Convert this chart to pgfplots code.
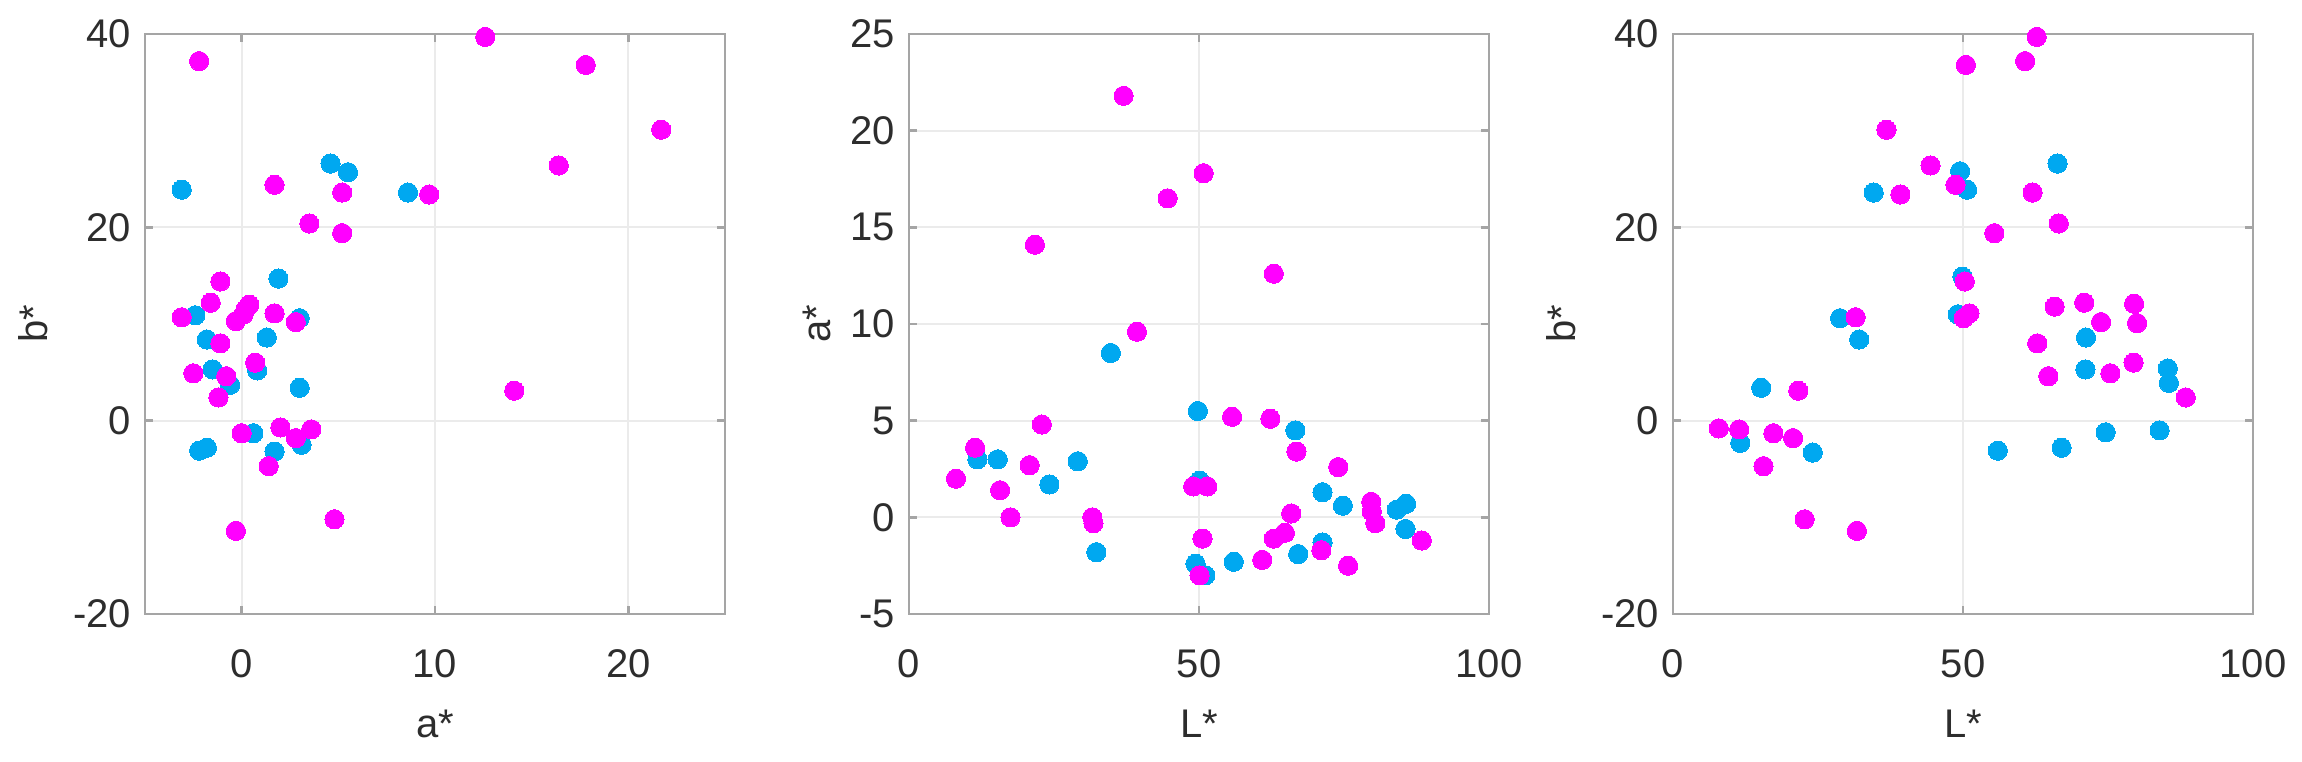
\documentclass[border=0pt]{standalone}
\usepackage{fontspec}
\setmainfont{Liberation Sans}
\usepackage{pgfplots}
\pgfplotsset{compat=1.18}

\definecolor{cyanpt}{RGB}{0,168,240}
\definecolor{magpt}{RGB}{255,0,255}
\definecolor{boxgray}{RGB}{165,165,165}
\definecolor{txtgray}{RGB}{45,45,45}

\pgfplotsset{
  panel/.style={
    scale only axis, width=145pt, height=145pt,
    anchor=south west, clip=false,
    axis line style={draw=boxgray, line width=0.6pt},
    grid=major, major grid style={draw=black!8, line width=0.5pt},
    tick style={draw=boxgray, line width=0.6pt}, major tick length=2pt,
    tick align=inside,
    ticklabel style={text=txtgray, font=\fontsize{10}{12}\selectfont},
    xticklabel style={yshift=-5.4pt},
    label style={text=txtgray, font=\fontsize{10}{12}\selectfont},
    xlabel style={at={(axis description cs:0.5,0)}, anchor=center, yshift=-27.5pt},
  },
  cy/.style={only marks, mark=*, mark size=2.4pt, color=cyanpt, mark options={draw=cyanpt, fill=cyanpt, line width=0pt}},
  mg/.style={only marks, mark=*, mark size=2.4pt, color=magpt, mark options={draw=magpt, fill=magpt, line width=0pt}},
}

\begin{document}
\begin{tikzpicture}
% a* vs b*
\begin{axis}[panel, at={(0pt,0pt)},
  xmin=-5, xmax=25, ymin=-20, ymax=40,
  xtick={0,10,20}, xticklabels={0,10,20},
  ytick={-20,0,20,40}, yticklabels={-20,0,20,40},
  xlabel={a*}, ylabel={b*},
  ylabel style={at={(axis description cs:-0.193,0.5)}, anchor=center}]
\addplot[cy] coordinates {(-3.1,23.9) (4.6,26.6) (5.5,25.7) (8.6,23.6) (1.9,14.7) (-2.4,10.9) (-1.8,8.4) (1.3,8.6) (-1.5,5.3) (0.8,5.2) (-0.6,3.7) (3.0,3.4) (0.6,-1.3) (3.1,-2.5) (1.7,-3.2) (-2.2,-3.1) (-1.8,-2.8) (3.0,10.6)};
\addplot[mg] coordinates {(-2.2,37.2) (12.6,39.7) (17.8,36.8) (21.7,30.1) (16.4,26.4) (1.7,24.4) (5.2,23.6) (9.7,23.4) (3.5,20.4) (5.2,19.4) (-1.1,14.4) (-1.6,12.2) (-3.1,10.7) (0.4,12.0) (0.2,11.5) (0.1,11.0) (-0.3,10.3) (1.7,11.1) (2.8,10.2) (-1.1,8.0) (0.7,6.0) (-2.5,4.9) (-0.8,4.6) (-1.2,2.4) (14.1,3.1) (0.0,-1.3) (2.0,-0.7) (2.8,-1.8) (3.6,-0.9) (1.4,-4.7) (4.8,-10.2) (-0.3,-11.4)};
\end{axis}
% L* vs a*
\begin{axis}[panel, at={(191pt,0pt)},
  xmin=0, xmax=100, ymin=-5, ymax=25,
  xtick={0,50,100}, xticklabels={0,50,100},
  ytick={-5,0,5,10,15,20,25}, yticklabels={-5,0,5,10,15,20,25},
  xlabel={L*}, ylabel={a*},
  ylabel style={at={(axis description cs:-0.159,0.5)}, anchor=center}]
\addplot[cy] coordinates {(34.8,8.5) (49.8,5.5) (66.6,4.5) (11.8,3.0) (15.3,3.0) (29.1,2.9) (24.2,1.7) (50.1,1.9) (32.3,-1.8) (71.3,1.3) (74.8,0.6) (84.1,0.4) (85.7,0.7) (85.6,-0.6) (67.1,-1.9) (71.3,-1.3) (56.0,-2.3) (49.4,-2.4) (51.1,-3.0)};
\addplot[mg] coordinates {(37.0,21.8) (50.8,17.8) (44.6,16.5) (21.7,14.1) (62.9,12.6) (39.3,9.6) (22.9,4.8) (11.4,3.6) (20.8,2.7) (8.1,2.0) (15.7,1.4) (17.5,0.0) (31.6,0.0) (31.8,-0.3) (49.0,1.6) (51.4,1.6) (55.7,5.2) (62.3,5.1) (66.8,3.4) (74.0,2.6) (65.9,0.2) (64.8,-0.8) (62.9,-1.1) (50.6,-1.1) (60.9,-2.2) (71.1,-1.7) (75.7,-2.5) (79.7,0.8) (79.8,0.3) (80.4,-0.3) (88.4,-1.2) (50.1,-3.0)};
\end{axis}
% L* vs b*
\begin{axis}[panel, at={(382pt,0pt)},
  xmin=0, xmax=100, ymin=-20, ymax=40,
  xtick={0,50,100}, xticklabels={0,50,100},
  ytick={-20,0,20,40}, yticklabels={-20,0,20,40},
  xlabel={L*}, ylabel={b*},
  ylabel style={at={(axis description cs:-0.193,0.5)}, anchor=center}]
\addplot[cy] coordinates {(66.3,26.6) (49.5,25.8) (50.7,23.9) (34.6,23.6) (49.9,14.9) (28.8,10.6) (32.1,8.4) (49.1,11.0) (71.2,8.6) (71.1,5.3) (85.3,5.4) (85.5,3.9) (15.2,3.4) (11.6,-2.3) (24.1,-3.3) (56.0,-3.1) (67.0,-2.8) (74.6,-1.2) (83.9,-1.0)};
\addplot[mg] coordinates {(62.7,39.7) (50.5,36.8) (60.7,37.2) (36.8,30.1) (44.4,26.4) (48.7,24.4) (39.2,23.4) (62.0,23.6) (66.5,20.4) (55.4,19.4) (50.3,14.4) (65.8,11.8) (70.9,12.2) (79.5,12.1) (31.5,10.7) (50.1,10.6) (51.1,11.1) (73.8,10.2) (80.0,10.1) (62.8,8.0) (79.4,6.0) (64.7,4.6) (75.4,4.9) (88.4,2.4) (21.6,3.1) (7.9,-0.8) (11.4,-0.9) (17.3,-1.3) (20.7,-1.8) (15.6,-4.7) (22.7,-10.2) (31.7,-11.4)};
\end{axis}
\pgfresetboundingbox
\useasboundingbox (-36.25pt,-36.75pt) rectangle (539.25pt,153.5pt);
\end{tikzpicture}
\end{document}
